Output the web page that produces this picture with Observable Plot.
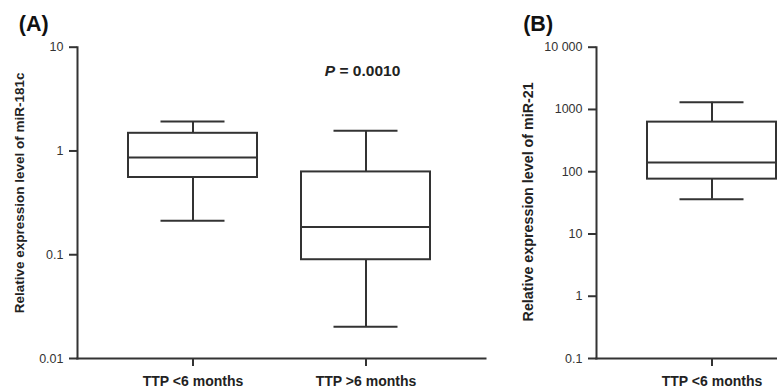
<!DOCTYPE html>
<html><head><meta charset="utf-8">
<script src="https://cdn.jsdelivr.net/npm/d3@7"></script>
<script src="https://cdn.jsdelivr.net/npm/@observablehq/plot@0.6"></script>
<style>
body{margin:0;background:#fff;}
#wrap{position:relative;width:777px;height:390px;overflow:hidden;background:#fff;}
#wrap svg{position:absolute;top:0;max-width:none;}
</style></head><body><div id="wrap"></div>
<script>
// Shared x categories
const groups = ["TTP <6 months", "TTP >6 months"];

// Panel A: miR-181c (five-number summaries)
const aGroups = ["TTP <6 months", "TTP >6 months"];
const aLow = [0.212, 0.0202];
const aQ1 = [0.555, 0.0895];
const aMedian = [0.864, 0.185];
const aQ3 = [1.48, 0.628];
const aHigh = [1.92, 1.57];
const aTicks = [0.01, 0.1, 1, 10];
const aTickLabels = ["0.01", "0.1", "1", "10"];

// Panel B: miR-21 (only the first group is visible)
const bGroups = ["TTP <6 months"];
const bLow = [36];
const bQ1 = [76];
const bMedian = [140];
const bQ3 = [626];
const bHigh = [1308];
const bTicks = [0.1, 1, 10, 100, 1000, 10000];
const bTickLabels = ["0.1", "1", "10", "100", "1000", "10 000"];

// Annotation
const pSymbol = "P";
const pText = "= 0.0010";
const pGroup = "TTP >6 months";

const INK = "#333";
const FONT = "'Liberation Sans', Arial, Helvetica, sans-serif";

function panel(o) {
  const rows = o.groups.map((g, i) => ({group: g, low: o.low[i], q1: o.q1[i], median: o.median[i], q3: o.q3[i], high: o.high[i]}));
  const fmt = new Map(o.ticks.map((t, i) => [t, o.tickLabels[i]]));
  const marks = [
    Plot.ruleX(rows, {x: "group", y1: "q3", y2: "high", stroke: INK, strokeWidth: 2}),
    Plot.ruleX(rows, {x: "group", y1: "low", y2: "q1", stroke: INK, strokeWidth: 2}),
    Plot.barY(rows, {x: "group", y1: "q1", y2: "q3", fill: "white", stroke: INK, strokeWidth: 2}),
    Plot.tickY(rows, {x: "group", y: "median", stroke: INK, strokeWidth: 2}),
    Plot.tickY(rows, {x: "group", y: "high", stroke: INK, strokeWidth: 2, insetLeft: 32.5, insetRight: 32.5}),
    Plot.tickY(rows, {x: "group", y: "low", stroke: INK, strokeWidth: 2, insetLeft: 32.5, insetRight: 32.5}),
    Plot.frame({anchor: "left", stroke: INK, strokeWidth: 2}),
    Plot.frame({anchor: "bottom", stroke: INK, strokeWidth: 2}),
    Plot.axisY({ticks: o.ticks, tickFormat: d => fmt.get(d), tickSize: 8, tickPadding: 6, fontSize: 12.5, stroke: INK, strokeWidth: 2, fill: "#333", label: null}),
    Plot.axisX({ticks: o.groups, tickSize: 8, tickPadding: 10, fontSize: 14, fontWeight: "bold", stroke: INK, strokeWidth: 2, fill: "#222", label: null}),
    Plot.text([o.yLabel], {frameAnchor: "left", rotate: -90, dx: o.labelDx, dy: o.labelDy, fontSize: o.labelSize, fontWeight: "bold", textAnchor: "middle", lineAnchor: "middle", fill: "#222"}),
    Plot.text([o.title], {frameAnchor: "top-left", dx: o.titleDx, dy: -23.5, textAnchor: "start", lineAnchor: "middle", fontSize: 21.5, fontWeight: "bold", fill: "#111"})
  ];
  if (o.annotate) {
    marks.push(
      Plot.text([pGroup], {x: d => d, frameAnchor: "top", text: () => pSymbol, dy: 24, dx: -31, textAnchor: "end", lineAnchor: "middle", fontSize: 15.5, fontWeight: "bold", fontStyle: "italic", fill: "#222"}),
      Plot.text([pGroup], {x: d => d, frameAnchor: "top", text: () => pText, dy: 24, dx: -26.5, textAnchor: "start", lineAnchor: "middle", fontSize: 15.5, fontWeight: "bold", fill: "#222"})
    );
  }
  return Plot.plot({
    width: 519,
    height: 390,
    marginLeft: 77,
    marginRight: 34,
    marginTop: 46.7,
    marginBottom: 32,
    style: {fontFamily: FONT, color: INK, background: "white", overflow: "visible"},
    x: {type: "band", domain: groups, paddingInner: 0.253, paddingOuter: 0.3, align: 0.485, label: null},
    y: {type: "log", domain: o.domain, label: null},
    marks
  });
}

const wrap = document.getElementById("wrap");
const A = panel({groups: aGroups, low: aLow, q1: aQ1, median: aMedian, q3: aQ3, high: aHigh,
  ticks: aTicks, tickLabels: aTickLabels, domain: [0.01, 10],
  yLabel: "Relative expression level of miR-181c", labelDx: -58, labelDy: -10, labelSize: 13.5,
  title: "(A)", titleDx: -58.7, annotate: true});
A.style.left = "0px";
wrap.appendChild(A);
const B = panel({groups: bGroups, low: bLow, q1: bQ1, median: bMedian, q3: bQ3, high: bHigh,
  ticks: bTicks, tickLabels: bTickLabels, domain: [0.1, 10000],
  yLabel: "Relative expression level of miR-21", labelDx: -68.5, labelDy: -1, labelSize: 14.3,
  title: "(B)", titleDx: -73.3, annotate: false});
B.style.left = "519px";
wrap.appendChild(B);
</script></body></html>
